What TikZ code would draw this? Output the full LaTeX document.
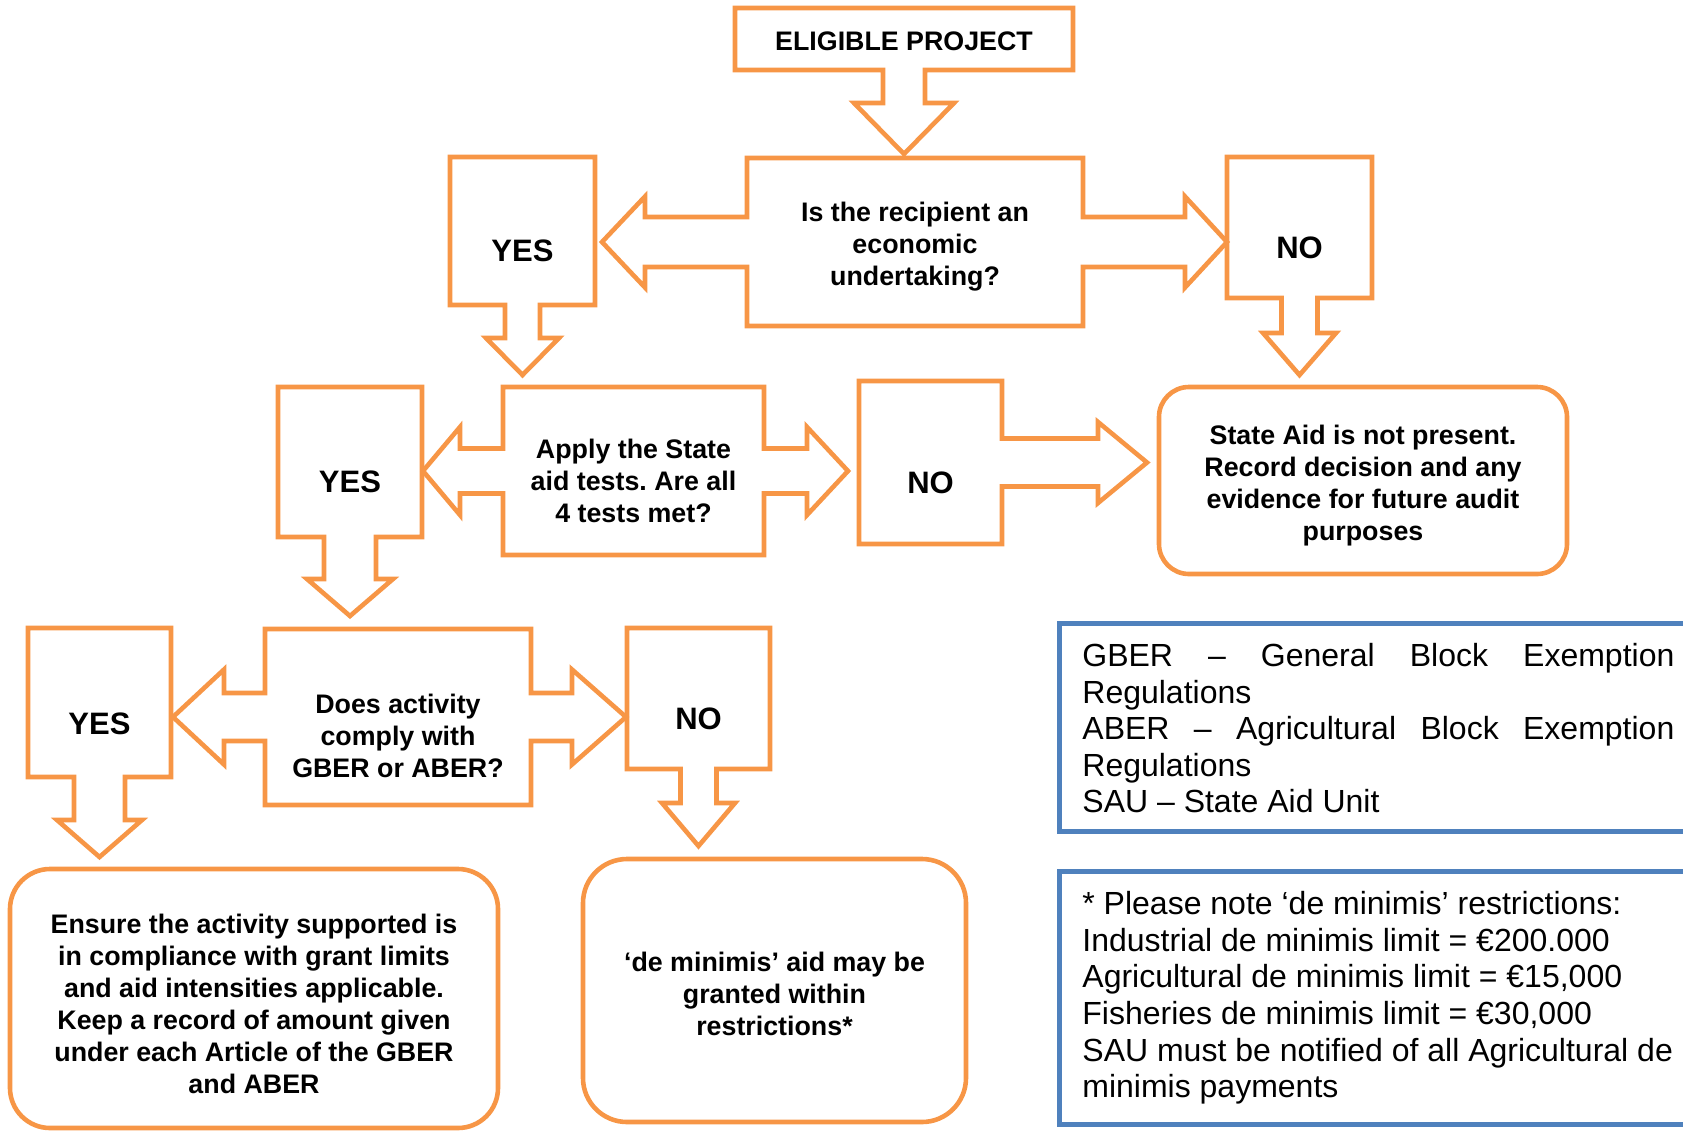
\documentclass[tikz,border=0pt]{standalone}
\usepackage{fontspec}
\setmainfont{Liberation Sans}
\frenchspacing
\usetikzlibrary{calc,fit}
\definecolor{calloutorange}{HTML}{F79646}
\definecolor{legendblue}{HTML}{4F81BD}

\begin{document}
\begin{tikzpicture}[x=0.5pt, y=0.5pt,
  area/.style={inner sep=0pt, outer sep=0pt},
  callout/.style={draw=calloutorange, line width=2.3pt, line join=miter},
  roundbox/.style={draw=calloutorange, line width=2.3pt, rounded corners=#1, inner sep=0pt, outer sep=0pt},
  legendbox/.style={draw=legendblue, line width=2.5pt, inner sep=0pt, outer sep=0pt},
  ask/.style={font=\bfseries\fontsize{13.4}{16}\selectfont, align=center, inner sep=0pt},
  answer/.style={font=\bfseries\fontsize{15.5}{18}\selectfont, inner sep=0pt},
  legend/.style={font=\fontsize{16}{18.3}\selectfont, inner sep=0pt, anchor=north west}]

  \useasboundingbox (0,0) rectangle (1683,-1131);

  % ====================================================
  % ROW 1: ELIGIBLE PROJECT AND FIRST QUESTION
  % ====================================================
  \node[area, fit={(735,-8) (1073,-70)}] (elig) {};
  \node[area, fit={(747,-158) (1083,-326)}] (q1) {};
  \node[area, fit={(450,-157) (595,-305)}] (yes1) {};
  \node[area, fit={(1227,-157) (1372,-298)}] (no1) {};

  % Eligible project, arrow down into the question
  \coordinate (eligtip) at ($(elig.center |- q1.north)+(0,4)$);
  \draw[callout] (elig.north west) -- (elig.north east) -- (elig.south east)
    -- ($(elig.south)+(21,0)$) -- ($(eligtip)+(21,51)$) -- ($(eligtip)+(50,51)$) -- (eligtip)
    -- ($(eligtip)+(-50,51)$) -- ($(eligtip)+(-21,51)$) -- ($(elig.south)+(-21,0)$)
    -- (elig.south west) -- cycle;

  % Question 1, arrows to YES and NO
  \coordinate (q1left) at ($(q1.center -| yes1.east)+(7,0)$);
  \coordinate (q1right) at (q1.center -| no1.west);
  \draw[callout] (q1.north west) -- (q1.north east) -- ($(q1.east)+(0,25)$)
    -- ($(q1right)+(-42,25)$) -- ($(q1right)+(-42,45.5)$) -- (q1right)
    -- ($(q1right)+(-42,-45.5)$) -- ($(q1right)+(-42,-25)$) -- ($(q1.east)+(0,-25)$)
    -- (q1.south east) -- (q1.south west) -- ($(q1.west)+(0,-25)$)
    -- ($(q1left)+(43,-25)$) -- ($(q1left)+(43,-45.5)$) -- (q1left)
    -- ($(q1left)+(43,45.5)$) -- ($(q1left)+(43,25)$) -- ($(q1.west)+(0,25)$) -- cycle;

  \node[ask] (eligtext) at ($(elig.center)+(0,-2)$) {ELIGIBLE PROJECT};
  \node[ask] (q1text) at ($(q1.center)+(0,-5)$) {Is the recipient an\\economic\\undertaking?};
  \node[answer] (yes1text) at ($(yes1.center)+(0,-20)$) {YES};
  \node[answer] (no1text) at ($(no1.center)+(0,-20)$) {NO};

  % ====================================================
  % ROW 2: STATE AID TESTS
  % ====================================================
  \node[area, fit={(503,-387) (764,-555)}] (q2) {};
  \node[area, fit={(278,-387) (422,-537)}] (yes2) {};
  \node[area, fit={(859,-381) (1002,-544)}] (no2) {};
  \node[roundbox=15pt, fit={(1159,-387) (1567,-574)}] (state) {};

  % YES (row 1) down into question 2
  \coordinate (yes1tip) at ($(yes1.center |- q2.north)+(0,12)$);
  \draw[callout] (yes1.north west) -- (yes1.north east) -- (yes1.south east)
    -- ($(yes1.south)+(17.5,0)$) -- ($(yes1tip)+(17.5,37)$) -- ($(yes1tip)+(36.5,37)$) -- (yes1tip)
    -- ($(yes1tip)+(-36.5,37)$) -- ($(yes1tip)+(-17.5,37)$) -- ($(yes1.south)+(-17.5,0)$)
    -- (yes1.south west) -- cycle;

  % NO (row 1) down into the result box
  \coordinate (no1tip) at ($(no1.center |- state.north)+(0,12)$);
  \draw[callout] (no1.north west) -- (no1.north east) -- (no1.south east)
    -- ($(no1.south)+(18,0)$) -- ($(no1tip)+(18,42)$) -- ($(no1tip)+(36.5,42)$) -- (no1tip)
    -- ($(no1tip)+(-36.5,42)$) -- ($(no1tip)+(-18,42)$) -- ($(no1.south)+(-18,0)$)
    -- (no1.south west) -- cycle;

  % Question 2, arrows to YES and NO
  \coordinate (q2left) at ($(q2.center -| yes2.east)+(1,0)$);
  \coordinate (q2right) at ($(q2.center -| no2.west)+(-11,0)$);
  \draw[callout] (q2.north west) -- (q2.north east) -- ($(q2.east)+(0,22.5)$)
    -- ($(q2right)+(-41,22.5)$) -- ($(q2right)+(-41,44)$) -- (q2right)
    -- ($(q2right)+(-41,-44)$) -- ($(q2right)+(-41,-22.5)$) -- ($(q2.east)+(0,-22.5)$)
    -- (q2.south east) -- (q2.south west) -- ($(q2.west)+(0,-22.5)$)
    -- ($(q2left)+(37,-22.5)$) -- ($(q2left)+(37,-44)$) -- (q2left)
    -- ($(q2left)+(37,44)$) -- ($(q2left)+(37,22.5)$) -- ($(q2.west)+(0,22.5)$) -- cycle;

  % NO (row 2) right into the result box
  \coordinate (no2tip) at ($(no2.center -| state.west)+(-12,0)$);
  \draw[callout] (no2.north west) -- (no2.north east) -- ($(no2.east)+(0,24)$)
    -- ($(no2tip)+(-49,24)$) -- ($(no2tip)+(-49,40.5)$) -- (no2tip)
    -- ($(no2tip)+(-49,-40.5)$) -- ($(no2tip)+(-49,-24)$) -- ($(no2.east)+(0,-24)$)
    -- (no2.south east) -- (no2.south west) -- cycle;

  \node[ask] (q2text) at ($(q2.center)+(0,-10)$) {Apply the State\\aid tests. Are all\\4 tests met?};
  \node[answer] (yes2text) at ($(yes2.center)+(0,-20)$) {YES};
  \node[answer] (no2text) at ($(no2.center)+(0,-20)$) {NO};
  \node[ask] (statetext) at ($(state.center)+(0,-5.5)$) {State Aid is not present.\\Record decision and any\\evidence for future audit\\purposes};

  % ====================================================
  % ROW 3: GBER / ABER
  % ====================================================
  \node[area, fit={(265,-629) (531,-805)}] (q3) {};
  \node[area, fit={(28,-628) (171,-777)}] (yes3) {};
  \node[area, fit={(627,-628) (770,-769)}] (no3) {};

  % YES (row 2) down into question 3
  \coordinate (yes2tip) at ($(yes2.center |- q3.north)+(0,13)$);
  \draw[callout] (yes2.north west) -- (yes2.north east) -- (yes2.south east)
    -- ($(yes2.south)+(26,0)$) -- ($(yes2tip)+(26,37)$) -- ($(yes2tip)+(43,37)$) -- (yes2tip)
    -- ($(yes2tip)+(-43,37)$) -- ($(yes2tip)+(-26,37)$) -- ($(yes2.south)+(-26,0)$)
    -- (yes2.south west) -- cycle;

  % Question 3, arrows to YES and NO
  \coordinate (q3left) at ($(q3.center -| yes3.east)+(2,0)$);
  \coordinate (q3right) at ($(q3.center -| no3.west)+(-1,0)$);
  \draw[callout] (q3.north west) -- (q3.north east) -- ($(q3.east)+(0,24)$)
    -- ($(q3right)+(-54,24)$) -- ($(q3right)+(-54,47.5)$) -- (q3right)
    -- ($(q3right)+(-54,-47.5)$) -- ($(q3right)+(-54,-24)$) -- ($(q3.east)+(0,-24)$)
    -- (q3.south east) -- (q3.south west) -- ($(q3.west)+(0,-24)$)
    -- ($(q3left)+(51,-24)$) -- ($(q3left)+(51,-47.5)$) -- (q3left)
    -- ($(q3left)+(51,47.5)$) -- ($(q3left)+(51,24)$) -- ($(q3.west)+(0,24)$) -- cycle;

  \node[ask] (q3text) at ($(q3.center)+(0,-19)$) {Does activity\\comply with\\GBER or ABER?};
  \node[answer] (yes3text) at ($(yes3.center)+(0,-21.5)$) {YES};
  \node[answer] (no3text) at ($(no3.center)+(0,-20.5)$) {NO};

  % ====================================================
  % ROW 4: OUTCOMES
  % ====================================================
  \node[roundbox=20pt, fit={(10,-869) (498,-1128)}] (ensure) {};
  \node[roundbox=22pt, fit={(583,-859) (966,-1122)}] (demin) {};

  % YES (row 3) down into the compliance box
  \coordinate (yes3tip) at ($(yes3.center |- ensure.north)+(0,12)$);
  \draw[callout] (yes3.north west) -- (yes3.north east) -- (yes3.south east)
    -- ($(yes3.south)+(25.5,0)$) -- ($(yes3tip)+(25.5,37)$) -- ($(yes3tip)+(42.5,37)$) -- (yes3tip)
    -- ($(yes3tip)+(-42.5,37)$) -- ($(yes3tip)+(-25.5,37)$) -- ($(yes3.south)+(-25.5,0)$)
    -- (yes3.south west) -- cycle;

  % NO (row 3) down into the de minimis box
  \coordinate (no3tip) at ($(no3.center |- demin.north)+(0,13)$);
  \draw[callout] (no3.north west) -- (no3.north east) -- (no3.south east)
    -- ($(no3.south)+(18,0)$) -- ($(no3tip)+(18,43)$) -- ($(no3tip)+(36.5,43)$) -- (no3tip)
    -- ($(no3tip)+(-36.5,43)$) -- ($(no3tip)+(-18,43)$) -- ($(no3.south)+(-18,0)$)
    -- (no3.south west) -- cycle;

  \node[ask] (ensuretext) at ($(ensure.center)+(0,-5.5)$) {Ensure the activity supported is\\in compliance with grant limits\\and aid intensities applicable.\\Keep a record of amount given\\under each Article of the GBER\\and ABER};
  \node[ask] (demintext) at ($(demin.center)+(0,-3.5)$) {‘de minimis’ aid may be\\granted within\\restrictions*};

  % ====================================================
  % LEGEND BOXES
  % ====================================================
  \node[legendbox, fit={(1059,-623) (1720,-831)}] (abbrev) {};
  \node[legend, text width=296pt, align=justify] (abbrevtext) at (1082,-643)
    {\hyphenpenalty=10000 \tolerance=10000 GBER – General Block Exemption Regulations\par
     ABER – Agricultural Block Exemption Regulations\par
     SAU – State Aid Unit};

  \node[legendbox, fit={(1059,-871) (1720,-1124)}] (note) {};
  \node[legend, align=left] (notetext) at (1082,-891)
    {* Please note ‘de minimis’ restrictions:\\Industrial de minimis limit = €200.000\\Agricultural de minimis limit = €15,000\\Fisheries de minimis limit = €30,000\\SAU must be notified of all Agricultural de\\minimis payments};
\end{tikzpicture}
\end{document}
